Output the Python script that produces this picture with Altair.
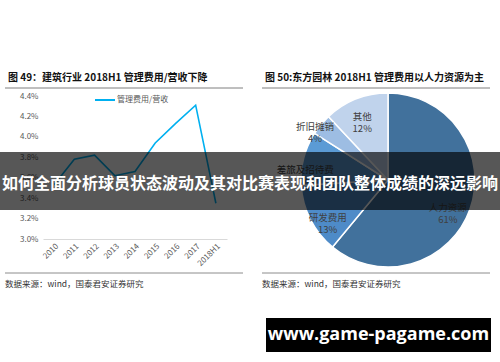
import altair as alt
import pandas as pd

# ---- data ----
years = ["2010", "2011", "2012", "2013", "2014", "2015", "2016", "2017", "2018H1"]
ratio = [3.53, 3.78, 3.82, 3.62, 3.66, 3.94, 4.13, 4.31, 3.35]   # 管理费用/营收 (%)
y_ticks = [3.0, 3.2, 3.4, 3.6, 3.8, 4.0, 4.2, 4.4]

cats = ["人力资源", "研发费用", "差旅及招待费", "折旧摊销", "其他"]
shares = [61, 13, 10, 4, 12]

title_left = "图 49：建筑行业 2018H1 管理费用/营收下降"
title_right = "图 50:东方园林 2018H1 管理费用以人力资源为主"
legend_label = "管理费用/营收"
source_text = "数据来源：wind，国泰君安证券研究"
banner_text = "如何全面分析球员状态波动及其对比赛表现和团队整体成绩的深远影响"
watermark_text = "www.game-pagame.com"

# ---- styles ----
FONT = "Noto Sans CJK SC"
LINE_COLOR = "#00b0f0"
pie_colors = ["#41719c", "#4e8bc8", "#5b9bd5", "#9dbde3", "#c0d3ec"]
# label nudges (dx, dy) per slice, relative to the slice's mid-angle at radius 70
label_nudge = {"人力资源": (-6, 4), "研发费用": (2, 6), "差旅及招待费": (-15, 7),
               "折旧摊销": (-19, -8), "其他": (0, 2)}

line_df = pd.DataFrame({"year": years, "ratio": ratio})
pie_df = pd.DataFrame({"cat": cats, "share": shares, "ord": list(range(len(cats)))})
one = pd.DataFrame({"k": [0]})

# ---- left: line chart ----
line = alt.Chart(line_df).mark_line(color=LINE_COLOR, strokeWidth=1.6).encode(
    x=alt.X("year:O", sort=years,
            scale=alt.Scale(type="point", range=[43, 227], padding=0.55),
            axis=alt.Axis(title=None, orient="bottom", offset=-123, labelAngle=-45,
                          labelFontSize=8, labelColor="#595959", labelFont=FONT,
                          domainColor="#d9d9d9", ticks=False, labelPadding=3, grid=False)),
    y=alt.Y("ratio:Q",
            scale=alt.Scale(domain=[3.0, 4.4], range=[239, 96], nice=False, zero=False),
            axis=alt.Axis(title=None, values=y_ticks, orient="left", offset=-43,
                          labelExpr="format(datum.value, '.1f') + '%'",
                          domain=False, ticks=False, grid=False, labelFont=FONT,
                          labelFontSize=8, labelColor="#595959", labelPadding=5)),
)

legend_rule = alt.Chart(one).mark_rule(color=LINE_COLOR, strokeWidth=2).encode(
    x=alt.value(95), x2=alt.value(115), y=alt.value(100))
legend_txt = alt.Chart(one).mark_text(align="left", baseline="middle", font=FONT,
                                      fontSize=8, color="#595959").encode(
    x=alt.value(117), y=alt.value(100), text=alt.value(legend_label))

# ---- right: pie ----
CX, CY = 388, 180
base_pie = alt.Chart(pie_df).encode(
    theta=alt.Theta("share:Q", stack=True),
    order=alt.Order("ord:Q"),
)
arc = base_pie.mark_arc(outerRadius=87, stroke="white", strokeWidth=1.5).encode(
    color=alt.Color("cat:N", scale=alt.Scale(domain=cats, range=pie_colors), legend=None),
    x=alt.value(CX), y=alt.value(CY),
)
pie_labels = []
for c in cats:
    dx, dy = label_nudge[c]
    pie_labels.append(
        base_pie.transform_calculate(
            lbl=f"datum.cat == '{c}' ? datum.cat + '\\n' + datum.share + '%' : ''"
        ).mark_text(lineBreak="\n", font=FONT, fontSize=9.5, color="#404040",
                    align="center", baseline="middle", lineHeight=12,
                    radius=70, dx=dx, dy=dy).encode(
            text="lbl:N", x=alt.value(CX), y=alt.value(CY))
    )

# ---- titles, rules, sources ----
def txt(s, x, y, size, color="#000000", weight="normal", align="left", font=FONT):
    return alt.Chart(one).mark_text(align=align, baseline="middle", font=font,
                                    fontSize=size, color=color, fontWeight=weight).encode(
        x=alt.value(x), y=alt.value(y), text=alt.value(s))

def hrule(x1, x2, y, color="#7f7f7f", w=1):
    return alt.Chart(one).mark_rule(color=color, strokeWidth=w).encode(
        x=alt.value(x1), x2=alt.value(x2), y=alt.value(y))

decor = [
    txt(title_left, 8, 78, 10, "#111111", "bold"),
    txt(title_right, 265, 78, 10, "#111111", "bold"),
    hrule(5, 243, 88),
    hrule(262, 490, 88),
    hrule(5, 243, 273, "#8c8c8c"),
    hrule(262, 490, 273, "#8c8c8c"),
    txt(source_text, 5, 284, 8.5, "#333333"),
    txt(source_text, 262, 284, 8.5, "#333333"),
]

# ---- overlays ----
banner = alt.Chart(one).mark_rect(color="#000000", opacity=0.66).encode(
    x=alt.value(0), x2=alt.value(500), y=alt.value(152), y2=alt.value(210))
banner_t = txt(banner_text, 250, 184, 16, "#ffffff", "bold", "center")
wm_rect = alt.Chart(one).mark_rect(color="#000000").encode(
    x=alt.value(266), x2=alt.value(491), y=alt.value(318), y2=alt.value(352))
wm_t = txt(watermark_text, 378.5, 335, 18, "#ffffff", "bold", "center", "Open Sans")

chart = alt.layer(
    line, legend_rule, legend_txt, arc, *pie_labels, *decor,
    banner, banner_t, wm_rect, wm_t,
).properties(
    width=500, height=362, padding=0, background="white",
    autosize=alt.AutoSizeParams(type="none"),
).configure_view(stroke=None)

chart.save("out.html", embed_options={"renderer": "svg", "actions": False})
